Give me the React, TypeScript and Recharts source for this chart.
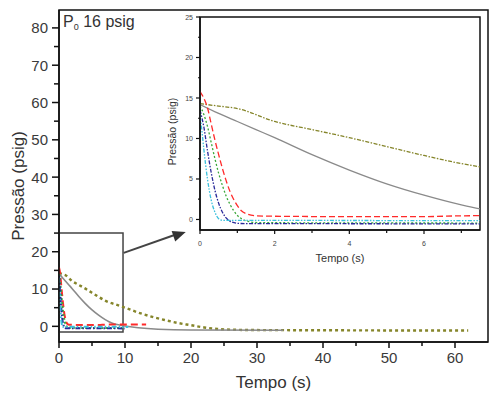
import { Label, Line, LineChart, ReferenceArea, ReferenceDot, ReferenceLine, XAxis, YAxis } from "recharts";

type Pt = { t: number; p: number };

// pressure traces (t in s, p in psig)
const olive: Pt[] = [
  { t: 0, p: 14.3 }, { t: 0.5, p: 14 }, { t: 1, p: 13.7 }, { t: 2, p: 12.1 }, { t: 3, p: 11.1 },
  { t: 4, p: 10.1 }, { t: 5, p: 9 }, { t: 6, p: 7.9 }, { t: 7, p: 6.9 }, { t: 7.5, p: 6.5 },
  { t: 8, p: 6.2 }, { t: 9, p: 5.6 }, { t: 10, p: 5 }, { t: 12, p: 3.7 }, { t: 14, p: 2.6 },
  { t: 16, p: 1.7 }, { t: 18, p: 0.9 }, { t: 20, p: 0.3 }, { t: 22, p: -0.3 }, { t: 24, p: -0.7 },
  { t: 26, p: -0.9 }, { t: 30, p: -1 }, { t: 40, p: -1.05 }, { t: 50, p: -1.1 }, { t: 62, p: -1.1 },
];
const gray: Pt[] = [
  { t: 0, p: 14.2 }, { t: 0.5, p: 13.1 }, { t: 1, p: 12.1 }, { t: 1.5, p: 11.1 }, { t: 2, p: 10.1 },
  { t: 3, p: 8 }, { t: 4, p: 6.1 }, { t: 5, p: 4.4 }, { t: 6, p: 3 }, { t: 7, p: 1.8 },
  { t: 7.5, p: 1.3 }, { t: 8, p: 0.9 }, { t: 9, p: 0.4 }, { t: 10, p: 0.1 }, { t: 12, p: -0.4 },
  { t: 15, p: -0.8 }, { t: 20, p: -1 }, { t: 34, p: -1.05 },
];
const red: Pt[] = [
  { t: 0, p: 15.8 }, { t: 0.1, p: 15 }, { t: 0.2, p: 13.8 }, { t: 0.3, p: 11.8 }, { t: 0.4, p: 9.8 },
  { t: 0.5, p: 8 }, { t: 0.6, p: 6.3 }, { t: 0.7, p: 4.8 }, { t: 0.8, p: 3.5 }, { t: 0.9, p: 2.5 },
  { t: 1, p: 1.7 }, { t: 1.1, p: 1.1 }, { t: 1.25, p: 0.7 }, { t: 1.5, p: 0.45 }, { t: 2, p: 0.4 },
  { t: 4, p: 0.35 }, { t: 6, p: 0.35 }, { t: 7, p: 0.45 }, { t: 9, p: 0.5 }, { t: 13.2, p: 0.5 },
];
const green: Pt[] = [
  { t: 0, p: 14 }, { t: 0.1, p: 13 }, { t: 0.2, p: 11.5 }, { t: 0.3, p: 9.5 }, { t: 0.4, p: 7.5 },
  { t: 0.5, p: 5.7 }, { t: 0.6, p: 4.2 }, { t: 0.7, p: 2.9 }, { t: 0.8, p: 1.9 }, { t: 0.9, p: 1.1 },
  { t: 1, p: 0.5 }, { t: 1.15, p: 0 }, { t: 1.35, p: -0.3 }, { t: 1.6, p: -0.4 }, { t: 10, p: -0.45 },
];
const blue: Pt[] = [
  { t: 0, p: 13.5 }, { t: 0.1, p: 11.5 }, { t: 0.2, p: 8.5 }, { t: 0.3, p: 5.8 }, { t: 0.4, p: 3.6 },
  { t: 0.5, p: 2 }, { t: 0.6, p: 0.9 }, { t: 0.7, p: 0.2 }, { t: 0.85, p: -0.3 }, { t: 1.1, p: -0.5 },
  { t: 10, p: -0.55 },
];
const cyan: Pt[] = [
  { t: 0, p: 13 }, { t: 0.05, p: 11 }, { t: 0.1, p: 8.8 }, { t: 0.2, p: 5 }, { t: 0.3, p: 2.4 },
  { t: 0.4, p: 0.9 }, { t: 0.5, p: 0.1 }, { t: 0.6, p: -0.1 }, { t: 10.5, p: -0.15 },
];

const mainXDomain: [number, number] = [0, 65];
const mainYDomain: [number, number] = [-4.2, 84.8];
const insetXDomain: [number, number] = [0, 7.5];
const insetYDomain: [number, number] = [-1.3, 25];
const mainXTicks = [0, 5, 10, 15, 20, 25, 30, 35, 40, 45, 50, 55, 60];
const mainYTicks = [0, 5, 10, 15, 20, 25, 30, 35, 40, 45, 50, 55, 60, 65, 70, 75, 80];
const insetXTicks = [0, 1, 2, 3, 4, 5, 6, 7];
const insetYTicks = [0, 2.5, 5, 7.5, 10, 12.5, 15, 17.5, 20, 22.5, 25];

const FONT = '"Liberation Sans", Arial, sans-serif';
const AX = { stroke: "#111", strokeWidth: 1.5 };

const MainXTick = ({ x, y, payload }: any) => {
  const major = payload.value % 10 === 0;
  return (
    <g>
      <line x1={x} y1={y} x2={x} y2={y + (major ? 6 : 4)} stroke="#111" strokeWidth={1.5} />
      {major && (
        <text x={x} y={y + 16} dy="0.36em" textAnchor="middle" fontSize={15} fill="#3a3a3a" fontFamily={FONT}>
          {payload.value}
        </text>
      )}
    </g>
  );
};

const MainYTick = ({ x, y, payload }: any) => {
  const major = payload.value % 10 === 0;
  return (
    <g>
      <line x1={x} y1={y} x2={x - (major ? 7 : 5)} y2={y} stroke="#111" strokeWidth={1.5} />
      {major && (
        <text x={x - 11} y={y} dy="0.36em" textAnchor="end" fontSize={15} fill="#3a3a3a" fontFamily={FONT}>
          {payload.value}
        </text>
      )}
    </g>
  );
};

const InsetXTick = ({ x, y, payload }: any) => {
  const major = payload.value % 2 === 0;
  return (
    <g>
      <line x1={x} y1={y} x2={x} y2={y + (major ? 4 : 3)} stroke="#111" strokeWidth={1.2} />
      {major && (
        <text x={x} y={y + 13} dy="0.36em" textAnchor="middle" fontSize={7} fill="#444" fontFamily={FONT}>
          {payload.value}
        </text>
      )}
    </g>
  );
};

const InsetYTick = ({ x, y, payload }: any) => {
  const major = payload.value % 5 === 0;
  return (
    <g>
      <line x1={x} y1={y} x2={x - (major ? 4 : 2)} y2={y} stroke="#111" strokeWidth={1.2} />
      {major && (
        <text x={x - 7} y={y} dy="0.36em" textAnchor="end" fontSize={7} fill="#444" fontFamily={FONT}>
          {payload.value}
        </text>
      )}
    </g>
  );
};

const ArrowHead = ({ cx, cy }: any) => (
  <polygon
    points="0,0 -13,-5.5 -13,5.5"
    fill="#333"
    transform={`translate(${cx},${cy}) rotate(-19)`}
  />
);

const series = [
  { name: "olive", data: olive, color: "#85852a", dash: "3 3", mainW: 2.4, insetDash: "4 1.5 1.5 1.5" },
  { name: "gray", data: gray, color: "#8a8a8a", dash: undefined, mainW: 1.6, insetDash: undefined },
  { name: "red", data: red, color: "#ff2a2a", dash: "7 4", mainW: 2, insetDash: "6 3" },
  { name: "green", data: green, color: "#3aa83a", dash: "2 2", mainW: 2, insetDash: "2 2" },
  { name: "blue", data: blue, color: "#2a2a9a", dash: "5 2 1.5 2", mainW: 2, insetDash: "4 1.5 1.5 1.5" },
  { name: "cyan", data: cyan, color: "#3cc0dc", dash: "5 2 1.5 2 1.5 2", mainW: 2, insetDash: "4 1.5 1.5 1.5 1.5 1.5" },
];

function MainChart() {
  return (
    <LineChart width={490} height={402} margin={{ top: 10, right: 2, bottom: 0, left: 0 }}>
      <XAxis
        type="number"
        dataKey="t"
        domain={mainXDomain}
        ticks={mainXTicks}
        allowDataOverflow
        height={60}
        axisLine={AX}
        tickLine={false}
        tickSize={0}
        tickMargin={0}
        tick={<MainXTick />}
        interval={0}
      >
        <Label value="Tempo (s)" position="center" dy={10} fontSize={17} fill="#333" fontFamily={FONT} />
      </XAxis>
      <YAxis
        type="number"
        domain={mainYDomain}
        ticks={mainYTicks}
        allowDataOverflow
        width={59}
        axisLine={AX}
        tickLine={false}
        tickSize={0}
        tickMargin={0}
        tick={<MainYTick />}
        interval={0}
      >
        <Label value="Pressão (psig)" position="center" angle={-90} dx={-12} dy={10} fontSize={17} fill="#333" fontFamily={FONT} />
      </YAxis>
      <ReferenceArea
        x1={mainXDomain[0]}
        x2={mainXDomain[1]}
        y1={mainYDomain[0]}
        y2={mainYDomain[1]}
        fill="none"
        fillOpacity={0}
        stroke="#111"
        strokeWidth={1.5}
        ifOverflow="visible"
      />
      {series.map((s) => (
        <Line
          key={s.name}
          data={s.data}
          dataKey="p"
          type="monotone"
          stroke={s.color}
          strokeWidth={s.mainW}
          strokeDasharray={s.dash}
          dot={false}
          isAnimationActive={false}
        />
      ))}
      <ReferenceArea x1={0} x2={9.7} y1={-1.5} y2={25} fill="none" fillOpacity={0} stroke="#444" strokeWidth={1.5} ifOverflow="visible" />
      <ReferenceLine segment={[{ x: 9.8, y: 19.7 }, { x: 17.5, y: 24.5 }]} stroke="#444" strokeWidth={2} ifOverflow="visible" />
      <ReferenceDot x={19.2} y={25.3} r={6} shape={<ArrowHead />} ifOverflow="visible" />
    </LineChart>
  );
}

function InsetChart() {
  return (
    <LineChart width={325} height={258} margin={{ top: 9, right: 5, bottom: 0, left: 0 }}>
      <XAxis
        type="number"
        dataKey="t"
        domain={insetXDomain}
        ticks={insetXTicks}
        allowDataOverflow
        height={36}
        axisLine={AX}
        tickLine={false}
        tickSize={0}
        tickMargin={0}
        tick={<InsetXTick />}
        interval={0}
      >
        <Label value="Tempo (s)" position="center" dy={10} fontSize={11} fill="#333" fontFamily={FONT} />
      </XAxis>
      <YAxis
        type="number"
        domain={insetYDomain}
        ticks={insetYTicks}
        allowDataOverflow
        width={40}
        axisLine={AX}
        tickLine={false}
        tickSize={0}
        tickMargin={0}
        tick={<InsetYTick />}
        interval={0}
      >
        <Label value="Pressão (psig)" position="center" angle={-90} dx={-8} dy={8} fontSize={10.5} fill="#333" fontFamily={FONT} />
      </YAxis>
      <ReferenceArea
        x1={insetXDomain[0]}
        x2={insetXDomain[1]}
        y1={insetYDomain[0]}
        y2={insetYDomain[1]}
        fill="#fff"
        fillOpacity={0}
        stroke="#111"
        strokeWidth={1.5}
        ifOverflow="visible"
      />
      {series.map((s) => (
        <Line
          key={s.name}
          data={s.data}
          dataKey="p"
          type="monotone"
          stroke={s.color}
          strokeWidth={1.3}
          strokeDasharray={s.insetDash}
          dot={false}
          isAnimationActive={false}
        />
      ))}
    </LineChart>
  );
}

export default function App() {
  return (
    <div style={{ position: "absolute", left: 0, top: 0, width: 490, height: 402, background: "#fff", fontFamily: FONT }}>
      <div style={{ position: "absolute", left: 0, top: 0 }}>
        <MainChart />
      </div>
      <svg style={{ position: "absolute", left: 0, top: 0 }} width={200} height={40}>
        <text x={63} y={27} fontSize={16} fill="#333" fontFamily={FONT}>
          P<tspan fontSize={9} dy={3}>0</tspan>
          <tspan dy={-3}> 16 psig</tspan>
        </text>
      </svg>
      <div style={{ position: "absolute", left: 160, top: 8 }}>
        <InsetChart />
      </div>
    </div>
  );
}
